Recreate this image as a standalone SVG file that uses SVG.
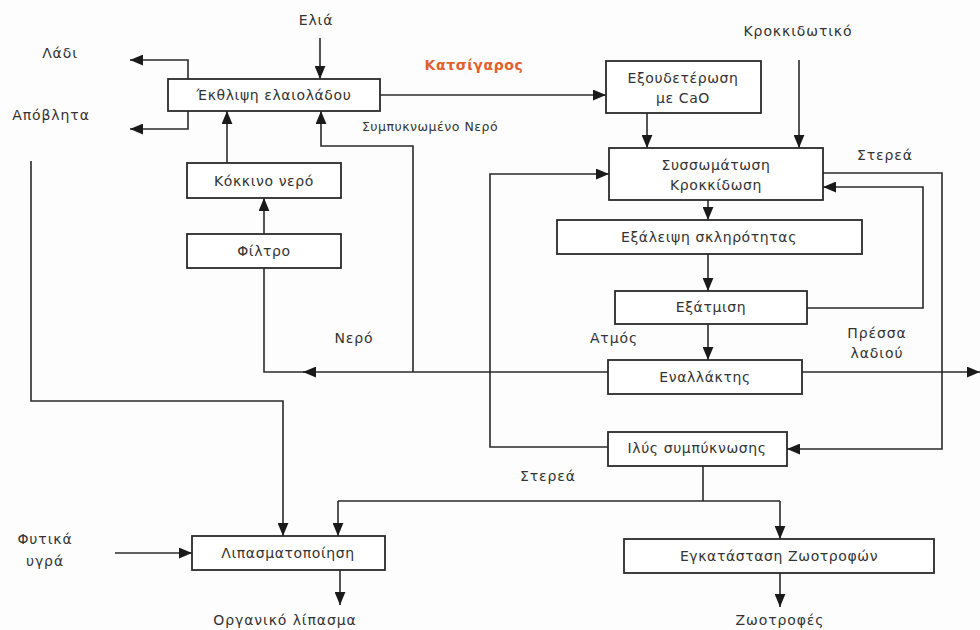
<svg xmlns="http://www.w3.org/2000/svg" width="980" height="630" viewBox="0 0 980 630">
<defs>
<marker id="ah" viewBox="0 0 12 10" refX="12" refY="5" markerWidth="13" markerHeight="11" markerUnits="userSpaceOnUse" orient="auto">
<path d="M0,0 L12,5 L0,10 Z" fill="#1a1a1a"/>
</marker>
<style>
.box{fill:#ffffff;stroke:#2a2a2a;stroke-width:1.8}
.t{font-family:"DejaVu Sans","Liberation Sans",sans-serif;font-size:14px;letter-spacing:0.6px;fill:#333;text-anchor:middle}
.l{font-family:"DejaVu Sans","Liberation Sans",sans-serif;font-size:14px;letter-spacing:0.9px;fill:#333;text-anchor:middle}
.c{fill:none;stroke:#2a2a2a;stroke-width:1.6}
.a{marker-end:url(#ah)}
</style>
</defs>
<rect width="980" height="630" fill="#fdfdfd"/>

<g id="connectors">
<path class="c a" d="M320,38 V79"/>
<path class="c a" d="M188,79 V60 H130"/>
<path class="c a" d="M188,111 V129 H130"/>
<path class="c a" d="M380,95 H606"/>
<path class="c a" d="M227,163 V111"/>
<path class="c a" d="M264,234 V198"/>
<path class="c a" d="M413,372 V146 H321 V111"/>
<path class="c a" d="M608,372 H303"/>
<path class="c" d="M305,372 H264 V268"/>
<path class="c a" d="M802,372 H980"/>
<path class="c a" d="M647,113 V148"/>
<path class="c a" d="M799,60 V148"/>
<path class="c a" d="M823,173 H942 V449 H787"/>
<path class="c a" d="M807,308 H923 V187 H823"/>
<path class="c a" d="M708,200 V220"/>
<path class="c a" d="M708,254 V291"/>
<path class="c a" d="M708,324 V360"/>
<path class="c a" d="M608,447 H490 V174 H609"/>
<path class="c" d="M703,466 V501 M338,501 H780"/>
<path class="c a" d="M338,501 V536"/>
<path class="c a" d="M780,501 V539"/>
<path class="c a" d="M31,161 V401 H283 V536"/>
<path class="c a" d="M115,553 H192"/>
<path class="c a" d="M340,570 V605"/>
<path class="c a" d="M780,573 V607"/>
</g>

<g id="n-ekthlipsi"><rect class="box" x="168" y="79" width="212" height="32"/><text class="t" x="274" y="100">Έκθλιψη ελαιολάδου</text></g>
<g id="n-kokkino"><rect class="box" x="187" y="163" width="154" height="35"/><text class="t" x="264" y="186">Κόκκινο νερό</text></g>
<g id="n-filtro"><rect class="box" x="187" y="234" width="154" height="34"/><text class="t" x="264" y="256">Φίλτρο</text></g>
<g id="n-exoudeterosi"><rect class="box" x="606" y="61" width="155" height="52"/><text class="t" x="683" y="83">Εξουδετέρωση</text><text class="t" x="683" y="103">με CaO</text></g>
<g id="n-syssomatosi"><rect class="box" x="609" y="148" width="214" height="52"/><text class="t" x="716" y="170">Συσσωμάτωση</text><text class="t" x="716" y="190">Κροκκίδωση</text></g>
<g id="n-exaleipsi"><rect class="box" x="557" y="220" width="305" height="34"/><text class="t" x="709" y="242">Εξάλειψη σκληρότητας</text></g>
<g id="n-exatmisi"><rect class="box" x="615" y="291" width="192" height="33"/><text class="t" x="711" y="312">Εξάτμιση</text></g>
<g id="n-enallaktis"><rect class="box" x="608" y="360" width="194" height="34"/><text class="t" x="705" y="382">Εναλλάκτης</text></g>
<g id="n-ilys"><rect class="box" x="608" y="432" width="179" height="34"/><text class="t" x="697" y="453">Ιλύς συμπύκνωσης</text></g>
<g id="n-lipasmatopoiisi"><rect class="box" x="192" y="536" width="193" height="34"/><text class="t" x="288" y="558">Λιπασματοποίηση</text></g>
<g id="n-zootrofes"><rect class="box" x="624" y="539" width="310" height="34"/><text class="t" x="779" y="561">Εγκατάσταση Ζωοτροφών</text></g>

<g id="labels">
<text class="l" x="316" y="25">Ελιά</text>
<text class="l" x="60" y="58">Λάδι</text>
<text class="l" x="51" y="120">Απόβλητα</text>
<text class="l" x="474" y="70" style="fill:#e0602e;font-weight:bold;letter-spacing:0.6px">Κατσίγαρος</text>
<text class="l" x="430" y="131" style="font-size:12.5px;letter-spacing:0.5px">Συμπυκνωμένο Νερό</text>
<text class="l" x="798" y="36">Κροκκιδωτικό</text>
<text class="l" x="885" y="160">Στερεά</text>
<text class="l" x="354" y="343">Νερό</text>
<text class="l" x="614" y="343">Ατμός</text>
<text class="l" x="877" y="338">Πρέσσα</text>
<text class="l" x="877" y="358">λαδιού</text>
<text class="l" x="548" y="481">Στερεά</text>
<text class="l" x="45" y="544">Φυτικά</text>
<text class="l" x="45" y="566">υγρά</text>
<text class="l" x="285" y="625">Οργανικό λίπασμα</text>
<text class="l" x="780" y="625">Ζωοτροφές</text>
</g>
</svg>
